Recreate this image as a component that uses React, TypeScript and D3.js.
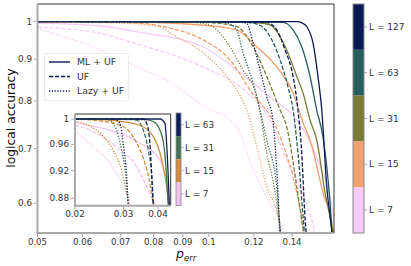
import React from "react";
import * as d3 from "d3";

// colour levels (top to bottom of the colourbars)
const levels = ["L = 127", "L = 63", "L = 31", "L = 15", "L = 7"];
const mainColors = ["#0b1a57", "#245e5d", "#7a7c36", "#f2a070", "#f8cbf6"];
const insetLevels = ["L = 63", "L = 31", "L = 15", "L = 7"];
const insetColors = ["#0e1f5a", "#3f7354", "#d38d3d", "#f5c3ef"];
const methods = ["ML + UF", "UF", "Lazy + UF"];

const xTicks = [0.05, 0.06, 0.07, 0.08, 0.09, 0.1, 0.12, 0.14];
const xTickLabels = ["0.05", "0.06", "0.07", "0.08", "0.09", "0.1", "0.12", "0.14"];
const yTicks = [0.6, 0.7, 0.8, 0.9, 1];
const yTickLabels = ["0.6", "0.7", "0.8", "0.9", "1"];
const insetXTicks = [0.02, 0.03, 0.04];
const insetXTickLabels = ["0.02", "0.03", "0.04"];
const insetYTicks = [0.88, 0.92, 0.96, 1];
const insetYTickLabels = ["0.88", "0.92", "0.96", "1"];

// main plot: [p_err, accuracy]
const ml127: [number, number][] = [[0.05, 1], [0.1427, 1], [0.146, 0.996], [0.1486, 0.986], [0.1524, 0.942], [0.1555, 0.857], [0.1579, 0.78], [0.1611, 0.629], [0.1644, 0.557], [0.166, 0.52]];
const ml63: [number, number][] = [[0.05, 1], [0.135, 0.998], [0.1406, 0.977], [0.1456, 0.932], [0.1506, 0.857], [0.1547, 0.78], [0.1587, 0.723], [0.1633, 0.6], [0.165, 0.54]];
const ml31: [number, number][] = [[0.05, 1], [0.112, 0.999], [0.1215, 0.997], [0.1281, 0.991], [0.1334, 0.959], [0.1377, 0.916], [0.1427, 0.857], [0.1464, 0.818], [0.1506, 0.758], [0.1547, 0.717], [0.16, 0.618], [0.1644, 0.557], [0.1655, 0.53]];
const ml15: [number, number][] = [[0.05, 1], [0.075, 0.999], [0.0855, 0.996], [0.0977, 0.99], [0.1119, 0.977], [0.1214, 0.932], [0.1316, 0.881], [0.1406, 0.818], [0.1464, 0.752], [0.1506, 0.717], [0.1587, 0.618], [0.1652, 0.557], [0.166, 0.54]];
const ml7: [number, number][] = [[0.05, 0.996], [0.0644, 0.988], [0.0766, 0.969], [0.0977, 0.932], [0.1119, 0.873], [0.1281, 0.809], [0.1427, 0.758], [0.155, 0.68], [0.1652, 0.584], [0.166, 0.57]];

const uf127: [number, number][] = [[0.05, 1], [0.126, 0.999], [0.1281, 0.995], [0.1316, 0.977], [0.1361, 0.924], [0.1406, 0.857], [0.1434, 0.78], [0.1456, 0.691], [0.1475, 0.578], [0.149, 0.53]];
const uf63: [number, number][] = [[0.05, 1], [0.115, 0.999], [0.123, 0.99], [0.1281, 0.959], [0.1334, 0.898], [0.1377, 0.833], [0.1406, 0.78], [0.1434, 0.691], [0.1464, 0.578], [0.148, 0.53]];
const uf31: [number, number][] = [[0.05, 1], [0.095, 0.999], [0.1017, 0.997], [0.1119, 0.986], [0.1196, 0.932], [0.1264, 0.857], [0.1334, 0.78], [0.137, 0.744], [0.1427, 0.629], [0.1464, 0.557], [0.148, 0.53]];
const uf15: [number, number][] = [[0.05, 1], [0.0644, 0.999], [0.0766, 0.995], [0.0855, 0.982], [0.0977, 0.95], [0.1089, 0.898], [0.1181, 0.825], [0.1334, 0.724], [0.1427, 0.618], [0.1464, 0.562], [0.148, 0.53]];
const uf7: [number, number][] = [[0.05, 0.985], [0.0644, 0.968], [0.0736, 0.942], [0.0855, 0.913], [0.0977, 0.88], [0.1152, 0.825], [0.1281, 0.758], [0.137, 0.678], [0.1456, 0.62], [0.1536, 0.552], [0.155, 0.535]];

const lazy127: [number, number][] = [[0.05, 1], [0.113, 0.999], [0.1165, 0.9955], [0.1196, 0.942], [0.123, 0.873], [0.1264, 0.81], [0.1296, 0.758], [0.1316, 0.659], [0.1334, 0.557], [0.1345, 0.53]];
const lazy63: [number, number][] = [[0.05, 1], [0.102, 0.999], [0.1075, 0.996], [0.1119, 0.977], [0.1148, 0.916], [0.1196, 0.842], [0.123, 0.78], [0.1264, 0.717], [0.1316, 0.629], [0.1334, 0.557], [0.1345, 0.53]];
const lazy31: [number, number][] = [[0.05, 1], [0.09, 0.999], [0.0977, 0.995], [0.1017, 0.986], [0.1089, 0.932], [0.1148, 0.873], [0.1214, 0.81], [0.1264, 0.691], [0.1316, 0.6], [0.1334, 0.552], [0.1345, 0.53]];
const lazy15: [number, number][] = [[0.05, 1], [0.0697, 0.996], [0.0821, 0.986], [0.0855, 0.969], [0.0977, 0.916], [0.1075, 0.857], [0.1165, 0.78], [0.1264, 0.629], [0.1334, 0.562], [0.1345, 0.53]];
const lazy7: [number, number][] = [[0.05, 0.982], [0.0644, 0.924], [0.0788, 0.866], [0.0855, 0.844], [0.0977, 0.79], [0.1119, 0.745], [0.1196, 0.66], [0.128, 0.6], [0.135, 0.557], [0.1365, 0.54]];

// inset: [p_err, accuracy]
const iml63: [number, number][] = [[0.02, 1], [0.0407, 1], [0.0424, 0.993], [0.043, 0.962], [0.0436, 0.911], [0.0441, 0.86]];
const iml31: [number, number][] = [[0.02, 1], [0.036, 0.999], [0.0385, 0.996], [0.0407, 0.982], [0.0421, 0.956], [0.043, 0.911], [0.0436, 0.871], [0.0441, 0.86]];
const iml15: [number, number][] = [[0.02, 1], [0.025, 0.999], [0.0283, 0.997], [0.0344, 0.99], [0.0385, 0.972], [0.0413, 0.936], [0.043, 0.897], [0.044, 0.86]];
const iml7: [number, number][] = [[0.02, 0.995], [0.02085, 0.993], [0.0268, 0.982], [0.0344, 0.962], [0.0407, 0.936], [0.0436, 0.892], [0.0445, 0.87]];
const iuf63: [number, number][] = [[0.02, 1], [0.0354, 1], [0.0364, 0.993], [0.0374, 0.962], [0.038, 0.911], [0.0385, 0.871], [0.0388, 0.86]];
const iuf31: [number, number][] = [[0.02, 1], [0.032, 0.9995], [0.0335, 0.998], [0.0354, 0.982], [0.0369, 0.951], [0.038, 0.911], [0.0385, 0.871], [0.0388, 0.86]];
const iuf15: [number, number][] = [[0.02, 1], [0.0247, 0.997], [0.0299, 0.988], [0.0335, 0.962], [0.0359, 0.931], [0.0374, 0.902], [0.0385, 0.871], [0.039, 0.86]];
const iuf7: [number, number][] = [[0.02, 0.99], [0.02085, 0.988], [0.0283, 0.956], [0.0335, 0.926], [0.0374, 0.887], [0.039, 0.871], [0.0395, 0.86]];
const ilazy63: [number, number][] = [[0.02, 1], [0.0275, 1], [0.0291, 0.993], [0.0299, 0.962], [0.0308, 0.911], [0.0312, 0.871], [0.0314, 0.86]];
const ilazy31: [number, number][] = [[0.02, 1], [0.026, 0.9995], [0.0268, 0.998], [0.0283, 0.982], [0.0295, 0.951], [0.0306, 0.911], [0.0312, 0.871], [0.0314, 0.86]];
const ilazy15: [number, number][] = [[0.02, 0.996], [0.0214, 0.993], [0.0247, 0.977], [0.0275, 0.951], [0.0295, 0.921], [0.0308, 0.887], [0.0315, 0.871], [0.0318, 0.86]];
const ilazy7: [number, number][] = [[0.02, 0.982], [0.0233, 0.956], [0.0268, 0.931], [0.0299, 0.897], [0.0317, 0.871], [0.032, 0.86]];

const mainSeries = [
  [ml127, ml63, ml31, ml15, ml7],
  [uf127, uf63, uf31, uf15, uf7],
  [lazy127, lazy63, lazy31, lazy15, lazy7],
];
const insetSeries = [
  [iml63, iml31, iml15, iml7],
  [iuf63, iuf31, iuf15, iuf7],
  [ilazy63, ilazy31, ilazy15, ilazy7],
];

const dashes = ["none", "4.2,1.8", "1.2,1.6"];
const FONT = "DejaVu Sans, sans-serif";
const TXT = "#333";
const SPINE = "#aaa";

export default function App() {
  // main axes
  const x = d3.scaleLog().domain([0.05, 0.1659]).range([37.5, 334]);
  const y = d3.scaleLog().domain([1.051, 0.552]).range([4, 233]);
  // inset axes
  const ix = d3.scaleLog().domain([0.02, 0.0445]).range([75, 170.7]);
  const iy = d3.scaleLog().domain([1.0081, 0.8696]).range([114, 205.7]);

  const line = (sx: any, sy: any) =>
    d3.line<[number, number]>().x(d => sx(d[0])).y(d => sy(d[1])).curve(d3.curveMonotoneX);
  const mainLine = line(x, y);
  const insetLine = line(ix, iy);

  const [x0, x1] = x.range();
  const [y0, y1] = y.range();
  const [ix0, ix1] = ix.range();
  const [iy0, iy1] = iy.range();

  // colourbars
  const cb = d3.scaleBand().domain(levels).range([4, 233]).padding(0);
  const icb = d3.scaleBand().domain(insetLevels).range([113, 205.5]).padding(0);

  return (
    <div style={{ position: "fixed", left: 0, top: 0 }}>
      <svg width={411} height={266} style={{ display: "block", fontFamily: FONT }}>
        <defs>
          <clipPath id="mainClip"><rect x={x0} y={y0} width={x1 - x0} height={y1 - y0} /></clipPath>
          <clipPath id="insetClip"><rect x={ix0} y={iy0} width={ix1 - ix0} height={iy1 - iy0} /></clipPath>
        </defs>
        <rect width={411} height={266} fill="white" />

        {/* main curves */}
        <g clipPath="url(#mainClip)">
          {mainSeries.map((group, m) =>
            [...group].map((d, i) => ({ d, i })).reverse().map(({ d, i }) => (
              <path key={`m${m}-${i}`} d={mainLine(d) || ""} fill="none" stroke={mainColors[i]}
                strokeWidth={1.3} strokeDasharray={dashes[m]} />
            ))
          )}
        </g>

        {/* main spines */}
        <line x1={x0} x2={x1} y1={y0} y2={y0} stroke="#333" strokeWidth={1} />
        <line x1={x1} x2={x1} y1={y0} y2={y1} stroke="#333" strokeWidth={1} />
        <line x1={x0} x2={x0} y1={y0} y2={y1 + 1} stroke={SPINE} strokeWidth={2} />
        <line x1={x0 - 1} x2={x1} y1={y1} y2={y1} stroke={SPINE} strokeWidth={2} />

        {xTicks.map((t, i) => (
          <g key={`xt${i}`}>
            <line x1={x(t)} x2={x(t)} y1={y1 + 1} y2={y1 + 4} stroke={SPINE} />
            <text x={x(t)} y={245} textAnchor="middle" fontSize={8.6} fill={TXT}>{xTickLabels[i]}</text>
          </g>
        ))}
        {yTicks.map((t, i) => (
          <g key={`yt${i}`}>
            <line x1={x0 - 4} x2={x0 - 1} y1={y(t)} y2={y(t)} stroke={SPINE} />
            <text x={32} y={y(t)} dy="0.35em" textAnchor="end" fontSize={8.8} fill={TXT}>{yTickLabels[i]}</text>
          </g>
        ))}

        <text transform="translate(15,118) rotate(-90)" textAnchor="middle" fontSize={12.3} fill="#111">logical accuracy</text>
        <text x={176} y={258} fontSize={12.5} fontStyle="italic" fill="#111">
          p<tspan fontSize={8.5} dy={2.5}>err</tspan>
        </text>

        {/* legend */}
        <rect x={44.5} y={53.5} width={84} height={47} rx={2} fill="white" fillOpacity={0.8} stroke="#e6e6e6" strokeWidth={0.8} />
        {methods.map((mname, m) => (
          <g key={`lg${m}`}>
            <line x1={49} x2={70} y1={62 + m * 14.5} y2={62 + m * 14.5} stroke={mainColors[0]} strokeWidth={1.4}
              strokeDasharray={dashes[m]} />
            <text x={77} y={62 + m * 14.5} dy="0.35em" fontSize={9.3} fill={TXT}>{mname}</text>
          </g>
        ))}

        {/* inset */}
        <rect x={ix0} y={iy0} width={ix1 - ix0} height={iy1 - iy0} fill="white" />
        <g clipPath="url(#insetClip)">
          {insetSeries.map((group, m) =>
            [...group].map((d, i) => ({ d, i })).reverse().map(({ d, i }) => (
              <path key={`i${m}-${i}`} d={insetLine(d) || ""} fill="none" stroke={insetColors[i]}
                strokeWidth={1.3} strokeDasharray={dashes[m]} />
            ))
          )}
        </g>
        <line x1={ix0} x2={ix1} y1={iy0} y2={iy0} stroke="#333" strokeWidth={1} />
        <line x1={ix1} x2={ix1} y1={iy0} y2={iy1} stroke="#333" strokeWidth={1} />
        <line x1={ix0} x2={ix0} y1={iy0} y2={iy1 + 1} stroke={SPINE} strokeWidth={2} />
        <line x1={ix0 - 1} x2={ix1} y1={iy1} y2={iy1} stroke={SPINE} strokeWidth={2} />
        {insetXTicks.map((t, i) => (
          <g key={`ixt${i}`}>
            <line x1={ix(t)} x2={ix(t)} y1={iy1 + 1} y2={iy1 + 4} stroke={SPINE} />
            <text x={ix(t)} y={217} textAnchor="middle" fontSize={8.8} fill={TXT}>{insetXTickLabels[i]}</text>
          </g>
        ))}
        {insetYTicks.map((t, i) => (
          <g key={`iyt${i}`}>
            <line x1={ix0 - 4} x2={ix0 - 1} y1={iy(t)} y2={iy(t)} stroke={SPINE} />
            <text x={69} y={iy(t)} dy="0.35em" textAnchor="end" fontSize={8.8} fill={TXT}>{insetYTickLabels[i]}</text>
          </g>
        ))}

        {/* inset colourbar */}
        {insetLevels.map((l, i) => (
          <g key={`icb${i}`}>
            <rect x={176} y={icb(l)} width={5} height={icb.bandwidth()} fill={insetColors[i]} />
            <line x1={181} x2={183.5} y1={icb(l)! + icb.bandwidth() / 2} y2={icb(l)! + icb.bandwidth() / 2} stroke={SPINE} />
            <text x={185} y={icb(l)! + icb.bandwidth() / 2} dy="0.35em" fontSize={8.8} fill={TXT}>{l}</text>
          </g>
        ))}
        <rect x={176} y={113} width={5} height={92.5} fill="none" stroke="#888" strokeWidth={0.8} />

        {/* main colourbar */}
        {levels.map((l, i) => (
          <g key={`cb${i}`}>
            <rect x={353} y={cb(l)} width={11} height={cb.bandwidth()} fill={mainColors[i]} />
            <line x1={364} x2={367} y1={cb(l)! + cb.bandwidth() / 2} y2={cb(l)! + cb.bandwidth() / 2} stroke={SPINE} />
            <text x={369} y={cb(l)! + cb.bandwidth() / 2} dy="0.35em" fontSize={9} fill={TXT}>{l}</text>
          </g>
        ))}
        <rect x={353} y={4} width={11} height={229} fill="none" stroke="#888" strokeWidth={1} />
      </svg>
    </div>
  );
}
